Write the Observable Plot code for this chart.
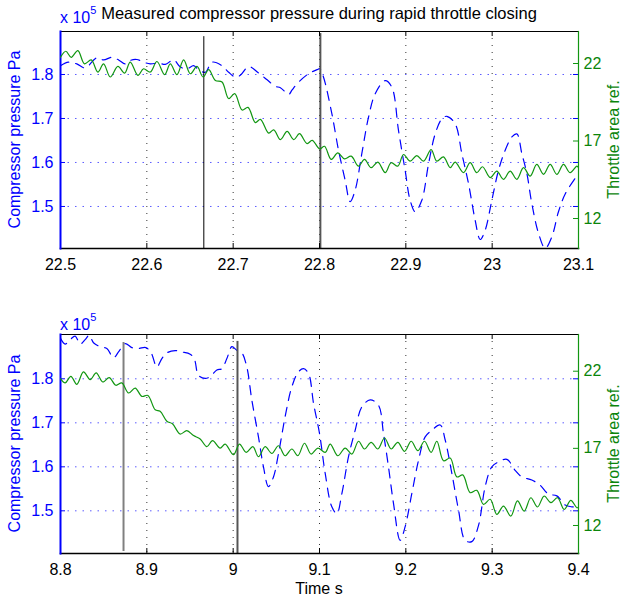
<!DOCTYPE html>
<html><head><meta charset="utf-8">
<script src="https://cdn.jsdelivr.net/npm/d3@7"></script>
<script src="https://cdn.jsdelivr.net/npm/@observablehq/plot@0.6"></script>
<style>
body{margin:0;background:#fff;}
#wrap{position:relative;width:621px;height:601px;overflow:hidden;background:#fff;}
#wrap svg{position:absolute;left:0;}
</style></head><body><div id="wrap"></div>
<script>
// ---------- data ----------
const titleText = "Measured compressor pressure during rapid throttle closing";
const leftLabel = "Compressor pressure Pa";
const rightLabel = "Throttle area ref.";
const xLabel = "Time s";

const topTicks = [22.5, 22.6, 22.7, 22.8, 22.9, 23, 23.1];
const bottomTicks = [8.8, 8.9, 9, 9.1, 9.2, 9.3, 9.4];
const pressureTicks = [1.5, 1.6, 1.7, 1.8];
const throttleTicks = [12, 17, 22];

const topTime = [22.5,22.5093,22.5189,22.5286,22.5421,22.5499,22.5595,22.5673,22.575,22.5808,22.5885,22.5962,22.604,22.6136,22.6214,22.631,22.6388,22.6465,22.6542,22.66,22.6678,22.6755,22.6871,22.6948,22.7026,22.7083,22.718,22.7296,22.7393,22.7489,22.7547,22.7644,22.7683,22.776,22.7876,22.7973,22.8003,22.8045,22.8143,22.822,22.8297,22.8355,22.8413,22.849,22.8568,22.8645,22.8761,22.8838,22.8915,22.8992,22.905,22.9108,22.9185,22.9263,22.934,22.9417,22.9475,22.9571,22.9649,22.9726,22.9803,22.9861,22.9919,22.9996,23.0073,23.0151,23.0228,23.0286,23.0344,23.0402,23.0459,23.0537,23.0614,23.0691,23.0768,23.085,23.1];
const topPressure = [1.820,1.828,1.824,1.815,1.838,1.833,1.839,1.833,1.824,1.832,1.834,1.828,1.824,1.826,1.823,1.833,1.817,1.813,1.820,1.811,1.805,1.828,1.820,1.805,1.794,1.798,1.818,1.803,1.788,1.773,1.770,1.755,1.765,1.783,1.802,1.811,1.813,1.795,1.711,1.628,1.560,1.511,1.537,1.620,1.703,1.756,1.786,1.771,1.673,1.582,1.514,1.488,1.514,1.597,1.665,1.699,1.705,1.688,1.620,1.552,1.469,1.425,1.446,1.514,1.582,1.628,1.658,1.665,1.620,1.575,1.507,1.439,1.405,1.431,1.488,1.530,1.575];

const topThrottleTime = [22.5,22.5062,22.5124,22.5201,22.5278,22.5356,22.5433,22.5499,22.5576,22.5665,22.5742,22.5808,22.5897,22.5962,22.604,22.6117,22.6206,22.6272,22.6349,22.6426,22.6504,22.6581,22.6651,22.6716,22.6794,22.6871,22.6948,22.7018,22.7103,22.7172,22.7257,22.7315,22.7412,22.747,22.7547,22.7625,22.7702,22.7768,22.7857,22.7915,22.8003,22.8058,22.8135,22.8212,22.829,22.8367,22.8452,22.8521,22.8598,22.8676,22.8761,22.883,22.8907,22.8973,22.905,22.9127,22.9205,22.9293,22.9359,22.9436,22.9514,22.9571,22.9668,22.9745,22.9822,22.9888,22.9977,23.0054,23.0131,23.0208,23.0286,23.0363,23.044,23.0517,23.0595,23.0672,23.0749,23.0826,23.0903,23.0981,23.1];
const topThrottle = [22.40,22.79,22.40,22.83,21.98,22.23,21.45,21.98,21.13,21.81,21.38,22.09,21.23,21.66,21.45,22.13,21.28,21.98,21.28,22.23,21.34,21.81,21.13,21.60,20.91,20.81,19.74,20.06,19.00,19.17,18.19,18.40,17.51,17.72,17.09,17.62,17.09,17.47,16.83,17.04,16.49,16.66,15.81,16.23,15.85,16.02,15.38,15.81,15.28,15.64,14.96,15.60,15.38,16.13,15.70,16.06,15.70,16.45,15.70,15.98,15.28,15.64,14.96,15.60,14.96,15.34,14.64,15.06,14.53,15.06,14.53,15.28,14.74,15.49,14.85,15.49,14.85,15.49,14.96,15.38,15.28];

const bottomTime = [8.8,8.8054,8.8112,8.817,8.8228,8.8286,8.8332,8.8382,8.8459,8.8537,8.8614,8.8672,8.8749,8.8826,8.8903,8.8988,8.905,8.9116,8.9174,8.9232,8.9328,8.9405,8.9502,8.9552,8.9598,8.9676,8.9734,8.9811,8.9869,8.9927,8.9985,9.0042,9.01,9.0158,9.0216,9.0293,9.0351,9.0409,9.0467,9.0525,9.0602,9.068,9.0757,9.0815,9.0873,9.0931,9.1,9.1066,9.1143,9.1201,9.1259,9.1336,9.1413,9.149,9.1587,9.1683,9.1741,9.1799,9.1857,9.1934,9.1992,9.2069,9.2147,9.2224,9.2301,9.2398,9.2456,9.2533,9.261,9.2687,9.2764,9.2842,9.2919,9.2996,9.3073,9.317,9.3266,9.3344,9.3459,9.3556,9.3653,9.3749,9.3846,9.3923,9.4];
const bottomPressure = [1.892,1.879,1.889,1.897,1.879,1.889,1.899,1.882,1.873,1.869,1.848,1.861,1.880,1.871,1.869,1.871,1.859,1.827,1.846,1.859,1.864,1.861,1.856,1.844,1.808,1.801,1.805,1.820,1.823,1.846,1.873,1.865,1.859,1.827,1.752,1.668,1.600,1.555,1.577,1.630,1.714,1.782,1.816,1.823,1.812,1.744,1.676,1.585,1.509,1.494,1.539,1.623,1.683,1.736,1.752,1.740,1.676,1.600,1.517,1.433,1.464,1.539,1.615,1.668,1.683,1.695,1.661,1.585,1.502,1.433,1.430,1.467,1.555,1.600,1.611,1.617,1.592,1.577,1.570,1.558,1.538,1.534,1.513,1.509,1.509];

const bottomThrottleTime = [8.8,8.8054,8.812,8.8189,8.8266,8.8344,8.8413,8.849,8.8564,8.8641,8.871,8.8788,8.8865,8.8942,8.9012,8.9097,8.9154,8.9232,8.9297,8.9386,8.9463,8.9541,8.9618,8.9695,8.9761,8.9849,8.9907,9.0004,9.0073,9.0151,9.0228,9.0293,9.0371,9.0448,9.0525,9.0602,9.068,9.0749,9.0826,9.0903,9.0981,9.1066,9.1124,9.1212,9.1297,9.1375,9.1452,9.1521,9.1598,9.1676,9.1753,9.183,9.1907,9.1985,9.2062,9.2139,9.2216,9.2293,9.2359,9.2436,9.2514,9.2591,9.266,9.2745,9.2822,9.29,9.2977,9.3054,9.3131,9.3216,9.3293,9.3371,9.3448,9.3525,9.3602,9.368,9.3757,9.3834,9.3911,9.3981,9.4];
const bottomThrottle = [21.52,21.24,21.67,21.15,21.96,21.46,21.89,21.30,21.59,21.09,21.24,20.59,20.91,20.37,20.43,19.50,19.41,18.76,18.59,17.93,18.15,17.83,17.61,17.11,17.50,17.02,17.28,16.59,17.28,16.74,17.11,16.46,17.11,16.67,17.17,16.52,16.96,16.52,17.33,16.63,17.02,16.74,17.28,16.52,17.02,16.63,17.46,16.96,17.39,16.96,17.67,16.96,17.39,16.80,17.46,16.85,17.46,16.74,17.46,16.20,16.37,15.15,15.28,14.13,14.28,13.37,13.70,12.72,13.26,12.61,13.59,12.93,13.80,13.20,13.91,13.48,13.80,13.04,13.63,13.15,13.20];

const topMarkers = [22.666, 22.801];
const topMarkerTop = [1.886, 1.893];
const bottomMarkers = [8.873, 9.005];
const bottomMarkerTop = [1.8825, 1.885];
const bottomMarkerBottom = [1.4075, 1.403];

// ---------- drawing ----------
const FONT = '"Liberation Sans", Arial, Helvetica, sans-serif';
const BLUE = "#0000ff", GRIDBLUE = "#5c5cff", GREEN = "#119611", GREENTXT = "#0b850b";
const W = 621, ML = 60, MR = 43;
const wrap = document.getElementById("wrap");

function panel(c) {
  const pw = W - ML - MR, ph = c.h - c.mt - c.mb;
  const pressure = c.time.map((t, i) => ({t, v: c.pressure[i]}));
  const throttle = c.thrTime.map((t, i) => ({t, v: c.throttle[i]}));
  const common = {
    width: W, height: c.h, marginTop: c.mt, marginBottom: c.mb, marginLeft: ML, marginRight: MR,
    style: {background: "transparent", fontFamily: FONT, fontSize: "16px", overflow: "visible"}
  };
  const xDomain = [c.xTicks[0], c.xTicks[c.xTicks.length - 1]];
  const markerMarks = c.markers.map((t, i) => Plot.ruleX([{t, lo: c.markerLow[i], hi: c.markerHigh[i]}],
    {x: "t", y1: "lo", y2: "hi", stroke: c.markerColor[i], strokeWidth: c.markerWidth[i]}));
  const left = Plot.plot({
    ...common,
    x: {domain: xDomain},
    y: {domain: c.pDomain},
    marks: [
      Plot.ruleX(c.xTicks.slice(1, -1), {stroke: "#333", strokeDasharray: "1,6"}),
      Plot.ruleY(pressureTicks, {stroke: GRIDBLUE, strokeDasharray: "1.5,6"}),
      Plot.line(pressure, {x: "t", y: "v", stroke: BLUE, strokeWidth: 1.2, strokeDasharray: "9,7", curve: "catmull-rom", clip: true}),
      ...markerMarks,
      Plot.tickX(c.xTicks, {insetTop: ph - 5, stroke: "#000"}),
      Plot.tickX(c.xTicks, {insetBottom: ph - 5, stroke: "#000"}),
      Plot.tickY(pressureTicks, {insetRight: pw - 5, stroke: BLUE}),
      Plot.tickY(pressureTicks, {insetLeft: pw - 5, stroke: BLUE}),
      Plot.axisX(c.xTicks, {tickSize: 0, tickPadding: 10, tickFormat: d => String(d), label: null, fill: "#000", fontSize: 16}),
      Plot.axisY(pressureTicks, {tickSize: 0, tickPadding: 7, tickFormat: d => String(d), label: null, fill: BLUE, fontSize: 16}),
      Plot.frame({anchor: "top", stroke: "#000"}),
      Plot.frame({anchor: "bottom", stroke: "#000", strokeWidth: 1.5}),
      Plot.frame({anchor: "left", stroke: BLUE, strokeWidth: 2})
    ]
  });
  const right = Plot.plot({
    ...common,
    x: {domain: xDomain, axis: null},
    y: {domain: c.gDomain, axis: null},
    marks: [
      Plot.line(throttle, {x: "t", y: "v", stroke: GREEN, strokeWidth: 1.2, curve: "catmull-rom", clip: true}),
      Plot.tickY(throttleTicks, {insetLeft: pw - 5, stroke: GREEN}),
      Plot.axisY(throttleTicks, {anchor: "right", tickSize: 0, tickPadding: 5, tickFormat: d => String(d), label: null, fill: GREENTXT, fontSize: 16}),
      Plot.frame({anchor: "right", stroke: GREEN, strokeWidth: 1.2})
    ]
  });
  left.style.top = c.top + "px";
  right.style.top = c.top + "px";
  wrap.appendChild(left);
  wrap.appendChild(right);
}

panel({
  top: 0, h: 290, mt: 31, mb: 42, xTicks: topTicks,
  time: topTime, pressure: topPressure, thrTime: topThrottleTime, throttle: topThrottle,
  pDomain: [1.4045, 1.8977], gDomain: [10.065, 24.065],
  markers: topMarkers, markerLow: [1.4045, 1.4045], markerHigh: topMarkerTop,
  markerColor: ["#000", "#555"], markerWidth: [1, 2]
});
panel({
  top: 300, h: 301, mt: 34, mb: 48, xTicks: bottomTicks,
  time: bottomTime, pressure: bottomPressure, thrTime: bottomThrottleTime, throttle: bottomThrottle,
  pDomain: [1.403, 1.9007], gDomain: [10.185, 24.38],
  markers: bottomMarkers, markerLow: bottomMarkerBottom, markerHigh: bottomMarkerTop,
  markerColor: ["#808080", "#555"], markerWidth: [2, 2]
});

// ---------- text overlay ----------
const svg = d3.select(wrap).append("svg")
  .attr("width", W).attr("height", 601).style("top", "0px")
  .style("font-family", FONT).style("pointer-events", "none");
svg.append("text").attr("x", 319).attr("y", 19).attr("text-anchor", "middle")
  .attr("font-size", 16.5).attr("fill", "#000").text(titleText);
function exponent(y) {
  const t = svg.append("text").attr("x", 60).attr("y", y).attr("fill", BLUE).attr("font-size", 16);
  t.append("tspan").text("x 10");
  t.append("tspan").attr("dy", -9).attr("font-size", 11).text("5");
}
exponent(23);
exponent(330);
function sideLabels(cy) {
  svg.append("text").attr("transform", `translate(20,${cy}) rotate(-90)`).attr("text-anchor", "middle")
    .attr("font-size", 16).attr("fill", BLUE).text(leftLabel);
  svg.append("text").attr("transform", `translate(619,${cy}) rotate(-90)`).attr("text-anchor", "middle")
    .attr("font-size", 16).attr("fill", GREENTXT).text(rightLabel);
}
sideLabels(139.5);
sideLabels(443.5);
svg.append("text").attr("x", 319).attr("y", 594).attr("text-anchor", "middle")
  .attr("font-size", 16).attr("fill", "#000").text(xLabel);
</script>
</body></html>
